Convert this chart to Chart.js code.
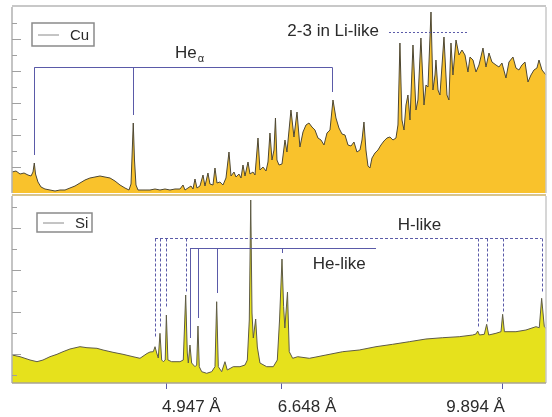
<!DOCTYPE html>
<html lang="en">
<head>
<meta charset="UTF-8">
<title>Cu / Si spectra</title>
<script src="https://cdn.jsdelivr.net/npm/chart.js"></script>
<style>
  body { margin: 0; background: #fff; }
  .wrap { position: relative; width: 552px; height: 417px; overflow: hidden; }
  canvas { position: absolute; left: 0; }
  #cuChart { top: 0; }
  #siChart { top: 194px; }
</style>
</head>
<body>
<div class="wrap">
  <canvas id="cuChart" width="552" height="194"></canvas>
  <canvas id="siChart" width="552" height="223"></canvas>
</div>
<script>
// Cu spectrum: wavelength (Å) and intensity (arb. counts)
const cuWave = [
  2.676, 2.735, 2.794, 2.853, 2.911, 2.956, 2.985, 3.004, 3.022, 3.058,
  3.103, 3.161, 3.235, 3.309, 3.382, 3.456, 3.529, 3.603, 3.676, 3.750,
  3.823, 3.897, 3.970, 4.044, 4.118, 4.191, 4.265, 4.338, 4.397, 4.427,
  4.460, 4.478, 4.500, 4.530, 4.633, 4.706, 4.780, 4.853, 4.927, 5.000,
  5.074, 5.147, 5.192, 5.221, 5.265, 5.309, 5.339, 5.368, 5.397, 5.441,
  5.486, 5.515, 5.559, 5.588, 5.633, 5.662, 5.692, 5.735, 5.780, 5.824,
  5.868, 5.898, 5.942, 5.971, 6.015, 6.045, 6.074, 6.104, 6.148, 6.177,
  6.221, 6.251, 6.295, 6.324, 6.368, 6.413, 6.442, 6.471, 6.501, 6.530,
  6.552, 6.574, 6.604, 6.648, 6.692, 6.721, 6.780, 6.824, 6.869, 6.912,
  6.957, 7.001, 7.045, 7.089, 7.133, 7.177, 7.222, 7.266, 7.310, 7.354,
  7.398, 7.442, 7.486, 7.531, 7.575, 7.619, 7.663, 7.707, 7.751, 7.795,
  7.825, 7.854, 7.883, 7.913, 7.942, 7.972, 8.016, 8.060, 8.104, 8.148,
  8.192, 8.236, 8.281, 8.325, 8.354, 8.383, 8.413, 8.443, 8.472, 8.501,
  8.531, 8.575, 8.619, 8.648, 8.692, 8.737, 8.766, 8.796, 8.840, 8.869,
  8.899, 8.913, 8.943, 8.972, 9.031, 9.075, 9.104, 9.134, 9.163, 9.208,
  9.252, 9.296, 9.340, 9.384, 9.414, 9.458, 9.502, 9.546, 9.605, 9.649,
  9.693, 9.737, 9.796, 9.840, 9.884, 9.943, 9.987, 10.046, 10.090, 10.134,
  10.178, 10.223, 10.267, 10.311, 10.355, 10.399, 10.429, 10.473, 10.532
];
const cuCounts = [
  210, 220, 190, 200, 180, 170, 210, 300, 190, 110,
  60, 40, 30, 20, 30, 30, 50, 70, 100, 130,
  150, 160, 170, 160, 150, 120, 80, 50, 30, 90,
  700, 330, 80, 30, 30, 30, 40, 30, 40, 30,
  40, 40, 80, 30, 50, 70, 40, 140, 50, 70,
  180, 70, 200, 90, 80, 250, 100, 110, 80, 150,
  410, 170, 210, 160, 190, 150, 280, 170, 310, 190,
  210, 180, 550, 230, 260, 220, 310, 600, 330, 430,
  750, 330, 280, 290, 530, 410, 830, 560, 810, 460,
  610, 680, 700, 660, 630, 550, 530, 480, 600, 630,
  930, 750, 650, 590, 580, 480, 470, 510, 410, 430,
  530, 710, 430, 270, 250, 350, 400, 430, 480, 520,
  550, 560, 530, 550, 680, 1500, 730, 630, 880, 980,
  730, 1480, 830, 930, 1550, 880, 1080, 1060, 1810, 1030,
  1180, 1330, 1030, 980, 1560, 980, 930, 1500, 1180, 1530,
  1380, 1430, 1380, 1210, 1360, 1330, 1210, 1280, 1450, 1260,
  1400, 1310, 1280, 1260, 1300, 1150, 1310, 1360, 1250, 1230,
  1280, 1310, 1110, 1180, 1230, 1250, 1330, 1230, 1180
];

// Si spectrum
const siWave = [
  2.676, 2.794, 2.941, 3.044, 3.132, 3.235, 3.338, 3.426, 3.529, 3.676,
  3.779, 3.926, 4.015, 4.162, 4.309, 4.456, 4.559, 4.662, 4.706, 4.755,
  4.780, 4.805, 4.828, 4.853, 4.878, 4.902, 4.930, 4.947, 4.970, 5.025,
  5.147, 5.196, 5.231, 5.255, 5.270, 5.294, 5.319, 5.368, 5.393, 5.412,
  5.431, 5.467, 5.540, 5.614, 5.662, 5.687, 5.711, 5.761, 5.809, 5.843,
  5.931, 6.030, 6.104, 6.138, 6.167, 6.188, 6.207, 6.226, 6.261, 6.285,
  6.324, 6.423, 6.520, 6.579, 6.612, 6.648, 6.672, 6.690, 6.729, 6.755,
  6.805, 6.879, 7.050, 7.148, 7.295, 7.541, 7.785, 8.031, 8.276, 8.521,
  8.766, 9.012, 9.256, 9.453, 9.502, 9.527, 9.553, 9.624, 9.659, 9.689,
  9.796, 9.870, 9.894, 9.920, 10.090, 10.237, 10.384, 10.433, 10.468, 10.507,
  10.532
];
const siCounts = [
  280, 263, 230, 213, 230, 263, 287, 313, 340, 363,
  353, 347, 330, 307, 287, 263, 247, 295, 310, 313,
  363, 300, 250, 497, 230, 213, 230, 680, 230, 213,
  213, 230, 880, 300, 200, 380, 200, 163, 180, 570,
  163, 113, 97, 113, 163, 813, 163, 113, 213, 130,
  163, 163, 180, 230, 630, 1830, 700, 450, 640, 360,
  200, 163, 163, 230, 630, 1240, 763, 550, 910, 313,
  247, 263, 247, 260, 280, 313, 330, 363, 387, 413,
  440, 453, 463, 480, 490, 520, 480, 487, 587, 480,
  497, 513, 687, 513, 513, 530, 563, 553, 847, 563,
  547
];

// axis ticks
const xTicks = [4.947, 6.648, 9.894];
const xTickLabels = ['4.947 Å', '6.648 Å', '9.894 Å'];
const cuTickValues = [260, 420, 580, 740, 900, 1060, 1220, 1380, 1540, 1700];
const cuTickMajor = [260, 580, 900, 1220, 1540];
const siTickValues = [80, 290, 500, 710, 920, 1130, 1340, 1550, 1760];
const siTickMajor = [290, 710, 1130, 1550];

// line identifications
const heAlphaLines = [3.004, 4.460, 7.390];
const heAlphaEnds = [380, 780, 1010];
const heAlphaLevel = 1265;
const liLikeSpan = [8.222, 9.399];
const liLikeLevel = 1610;
const hLikeLines = [4.780, 4.853, 4.947, 5.231, 9.527, 9.659, 9.894, 10.468];
const hLikeEnds = [450, 560, 750, 910, 560, 610, 700, 900];
const hLikeLevel = 1450;
const heLikeLines = [5.294, 5.412, 5.687, 6.648];
const heLikeEnds = [450, 650, 900, 1300];
const heLikeLevel = 1350;
const heLikeEnd = 8.031;

const FONT = '"Liberation Sans", Arial, sans-serif';
const INK = '#5a5aa8';
const xLabelShift = [25, 25, -27];

function spectrum(wave, counts) {
  return wave.map((w, i) => ({ x: w, y: counts[i] }));
}

function frame(ctx, a, topColor, bottomColor) {
  ctx.save();
  ctx.lineWidth = 1.5;
  ctx.strokeStyle = '#c8c8c8';
  ctx.beginPath(); ctx.moveTo(a.right, a.top); ctx.lineTo(a.right, a.bottom); ctx.stroke();
  ctx.strokeStyle = '#b0b0b0';
  ctx.beginPath(); ctx.moveTo(a.left, a.top); ctx.lineTo(a.left, a.bottom); ctx.stroke();
  if (topColor) {
    ctx.strokeStyle = topColor; ctx.lineWidth = 2;
    ctx.beginPath(); ctx.moveTo(a.left, a.top - 1); ctx.lineTo(a.right, a.top - 1); ctx.stroke();
  }
  if (bottomColor) {
    ctx.strokeStyle = bottomColor; ctx.lineWidth = 1.5;
    ctx.beginPath(); ctx.moveTo(a.left, a.bottom); ctx.lineTo(a.right, a.bottom); ctx.stroke();
  }
  ctx.restore();
}

function yTicks(ctx, a, y, values, major) {
  ctx.save();
  ctx.strokeStyle = '#a0a0a0';
  ctx.lineWidth = 1;
  ctx.beginPath();
  values.forEach(v => {
    const py = Math.round(y.getPixelForValue(v)) + 0.5;
    ctx.moveTo(a.left, py);
    ctx.lineTo(a.left + (major.includes(v) ? 9 : 5), py);
  });
  ctx.stroke();
  ctx.restore();
}

function bracket(ctx, x, y, from, to, level, lines, ends, dash) {
  ctx.save();
  ctx.strokeStyle = INK;
  ctx.lineWidth = 1;
  ctx.setLineDash(dash || []);
  const ly = Math.round(y.getPixelForValue(level)) + 0.5;
  ctx.beginPath();
  ctx.moveTo(x.getPixelForValue(from), ly);
  ctx.lineTo(x.getPixelForValue(to), ly);
  lines.forEach((w, i) => {
    const lx = Math.round(x.getPixelForValue(w)) + 0.5;
    ctx.moveTo(lx, ly);
    ctx.lineTo(lx, y.getPixelForValue(ends[i]));
  });
  ctx.stroke();
  ctx.restore();
}

function label(ctx, str, px, py, align, size) {
  ctx.save();
  ctx.font = size + 'px ' + FONT;
  ctx.fillStyle = '#2b2b2b';
  ctx.textAlign = align;
  ctx.textBaseline = 'alphabetic';
  ctx.fillText(str, px, py);
  ctx.restore();
}

function legendBox(chart, dx, dy, w, h) {
  const { ctx, chartArea: a } = chart;
  const left = a.left + dx, top = a.top + dy;
  ctx.save();
  ctx.strokeStyle = '#8a8a8a';
  ctx.lineWidth = 1.5;
  ctx.strokeRect(left, top, w, h);
  ctx.lineWidth = 1;
  ctx.beginPath();
  ctx.moveTo(left + 6, top + h / 2 + 0.5);
  ctx.lineTo(left + 27, top + h / 2 + 0.5);
  ctx.stroke();
  ctx.restore();
  label(ctx, chart.data.datasets[0].label, left + 38, top + h / 2 + 5.5, 'left', 15);
}

const cuDecor = {
  id: 'cuDecor',
  afterDatasetsDraw(chart) {
    const { ctx, chartArea: a, scales: { x, y } } = chart;
    frame(ctx, a, '#c8c8c8', null);
    yTicks(ctx, a, y, cuTickValues, cuTickMajor);
    bracket(ctx, x, y, heAlphaLines[0], heAlphaLines[2], heAlphaLevel, heAlphaLines, heAlphaEnds);
    // He alpha label
    const hx = x.getPixelForValue(5.074), hy = y.getPixelForValue(1350);
    label(ctx, 'He', hx, hy, 'left', 17);
    ctx.font = '17px ' + FONT;
    label(ctx, 'α', hx + ctx.measureText('He').width + 1, hy + 4, 'left', 11);
    // 2-3 in Li-like
    const ly = Math.round(y.getPixelForValue(liLikeLevel)) + 0.5;
    const lx0 = x.getPixelForValue(liLikeSpan[0]);
    ctx.save();
    ctx.strokeStyle = INK; ctx.lineWidth = 1; ctx.setLineDash([2, 2]);
    ctx.beginPath(); ctx.moveTo(lx0, ly); ctx.lineTo(x.getPixelForValue(liLikeSpan[1]), ly); ctx.stroke();
    ctx.restore();
    label(ctx, '2-3 in Li-like', lx0 - 10, ly + 3, 'right', 17);
    legendBox(chart, 20, 16, 62, 23);
  }
};

const siDecor = {
  id: 'siDecor',
  afterDatasetsDraw(chart) {
    const { ctx, chartArea: a, scales: { x, y } } = chart;
    frame(ctx, a, '#d9c48c', '#a9a393');
    yTicks(ctx, a, y, siTickValues, siTickMajor);
    bracket(ctx, x, y, hLikeLines[0], hLikeLines[hLikeLines.length - 1], hLikeLevel, hLikeLines, hLikeEnds, [3, 2]);
    bracket(ctx, x, y, heLikeLines[0], heLikeEnd, heLikeLevel, heLikeLines, heLikeEnds);
    label(ctx, 'H-like', x.getPixelForValue(8.67), y.getPixelForValue(1530), 'center', 17);
    label(ctx, 'He-like', x.getPixelForValue(7.491), y.getPixelForValue(1140), 'center', 17);
    legendBox(chart, 25, 17, 55, 19);
  },
  afterDraw(chart) {
    const { ctx, chartArea: a, scales: { x } } = chart;
    xTicks.forEach((v, i) => {
      label(ctx, xTickLabels[i], x.getPixelForValue(v) + xLabelShift[i], a.bottom + 29, 'center', 17);
    });
  }
};

const common = {
  responsive: false,
  animation: false,
  devicePixelRatio: 1,
  plugins: { legend: { display: false }, tooltip: { enabled: false } },
  elements: { point: { radius: 0 }, line: { tension: 0 } }
};

new Chart(document.getElementById('cuChart'), {
  type: 'line',
  data: {
    datasets: [{
      label: 'Cu',
      data: spectrum(cuWave, cuCounts),
      borderColor: '#4d4733',
      borderWidth: 1,
      backgroundColor: '#f9c22c',
      fill: 'origin'
    }]
  },
  options: {
    ...common,
    layout: { padding: { left: 12, right: 6, top: 7, bottom: 1 } },
    scales: {
      x: { type: 'linear', min: 2.676, max: 10.532, display: false },
      y: { min: 0, max: 1860, display: false }
    }
  },
  plugins: [cuDecor]
});

new Chart(document.getElementById('siChart'), {
  type: 'line',
  data: {
    datasets: [{
      label: 'Si',
      data: spectrum(siWave, siCounts),
      borderColor: '#5e5b45',
      borderWidth: 1,
      backgroundColor: '#e6e11c',
      fill: 'origin'
    }]
  },
  options: {
    ...common,
    layout: { padding: { left: 12, right: 6, top: 2, bottom: 28 } },
    scales: {
      x: {
        type: 'linear', min: 2.676, max: 10.532,
        afterBuildTicks: s => { s.ticks = xTicks.map(v => ({ value: v })); },
        ticks: { display: false },
        grid: { drawOnChartArea: false, drawTicks: true, tickLength: 6, color: INK },
        border: { display: false }
      },
      y: { min: 0, max: 1870, display: false }
    }
  },
  plugins: [siDecor]
});
</script>
</body>
</html>
